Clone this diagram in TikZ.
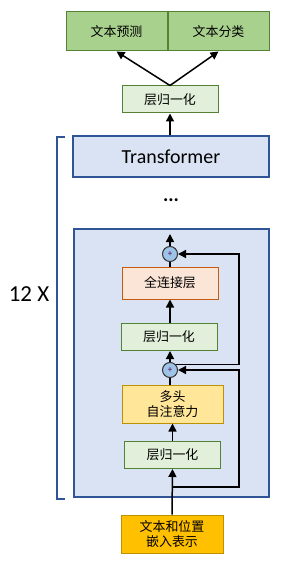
\documentclass[tikz,border=0pt]{standalone}
\usepackage{fontspec}
\setmainfont{Carlito}
\newfontfamily\cjk{Noto Sans CJK SC}
\usepackage{tikz}
\usetikzlibrary{arrows.meta, positioning, backgrounds, calc}
\definecolor{hgreen}{HTML}{A9D18E}
\definecolor{dgreen}{HTML}{548235}
\definecolor{lgreen}{HTML}{E2EFDA}
\definecolor{lblue}{HTML}{DAE3F3}
\definecolor{dblue}{HTML}{2F5597}
\definecolor{lorange}{HTML}{FBE5D6}
\definecolor{dorange}{HTML}{C55A11}
\definecolor{lyellow}{HTML}{FFE699}
\definecolor{dyellow}{HTML}{BF9000}
\definecolor{gold}{HTML}{FFC000}
\definecolor{cblue}{HTML}{9DC3E6}

\begin{document}
\begin{tikzpicture}[
  x=1bp, y=-1bp,
  box/.style={draw, line width=1bp, inner sep=0pt, align=center, font=\cjk\fontsize{13}{15.5}\selectfont},
  head/.style={box, fill=hgreen, draw=dgreen, minimum width=101bp, minimum height=39bp},
  norm/.style={box, fill=lgreen, draw=dgreen, minimum width=96bp, minimum height=27bp},
  ffn/.style={box, fill=lorange, draw=dorange, minimum width=96bp, minimum height=32bp},
  attn/.style={box, fill=lyellow, draw=dyellow, minimum width=101bp, minimum height=38bp},
  embed/.style={box, fill=gold, draw=dyellow, minimum width=102bp, minimum height=38bp},
  layer/.style={draw=dblue, fill=lblue, line width=1.2bp, inner sep=0pt},
  plus/.style={circle, draw=black!80, fill=cblue, line width=1bp, minimum size=15bp, inner sep=0pt, font=\fontsize{9}{9}\selectfont\color{violet!70!black}},
  arr/.style={-{Triangle[width=8bp, length=8bp]}, line width=1.5bp},
  lin/.style={line width=1.5bp}
]
\useasboundingbox (0,0) rectangle (303,572);

\node[layer, minimum width=195bp, minimum height=268bp] (block) at (171.5,363) {};

\node[head] (pred) at (116.5,31.5) {文本预测};
\node[head] (cls)  at (218.5,31.5) {文本分类};
\node[norm] (ntop) at (170,99.5) {层归一化};
\node[layer, minimum width=196bp, minimum height=41bp, font=\fontsize{20}{22}\selectfont] (trans) at (171,156.5) {Transformer};
\node[font=\bfseries\fontsize{20}{22}\selectfont] (dots) at (171,200) {...};

\node[plus] (p1) at (170,254) {+};
\node[ffn]  (fc) at (170,283) {全连接层};
\node[norm] (n2) at (169,337) {层归一化};
\node[plus] (p2) at (170,370) {+};
\node[attn] (mha) at (172.5,404) {多头\\自注意力};
\node[norm] (n1) at (172.5,455) {层归一化};
\node[embed] (emb) at (172,534) {文本和位置\\嵌入表示};

\coordinate (out) at (170,234);
\coordinate (rail) at (239,0);
\coordinate (split) at (172,487);

\draw[arr] (ntop.north) -- (pred.south);
\draw[arr] (ntop.north) -- (cls.south);
\draw[arr] (ntop.south |- trans.north) -- (ntop.south);

\draw[arr] (p1.north) -- (out);
\draw[lin] (fc.south |- fc.north) -- (p1.south);
\draw[arr] (n2.north -| fc.south) -- (fc.south);
\draw[arr] (p2.north) -- (p2.north |- n2.south);
\draw[arr] (p2.45) -- (p2.45 -| rail) |- (p1.east);
\draw[lin] (mha.north -| p2.south) -- (p2.south);
\draw[arr] (n1.north) -- (mha.south);
\draw[arr] (emb.north) -- (n1.south);
\draw[arr] (split) -- (split -| rail) |- (p2.east);

\draw[dblue, line width=2bp] (65,137) -- (57,137) -- (57,499) -- (65,499);
\node[font=\fontsize{23}{25}\selectfont] (rep) at (29,294) {12 X};
\end{tikzpicture}
\end{document}
